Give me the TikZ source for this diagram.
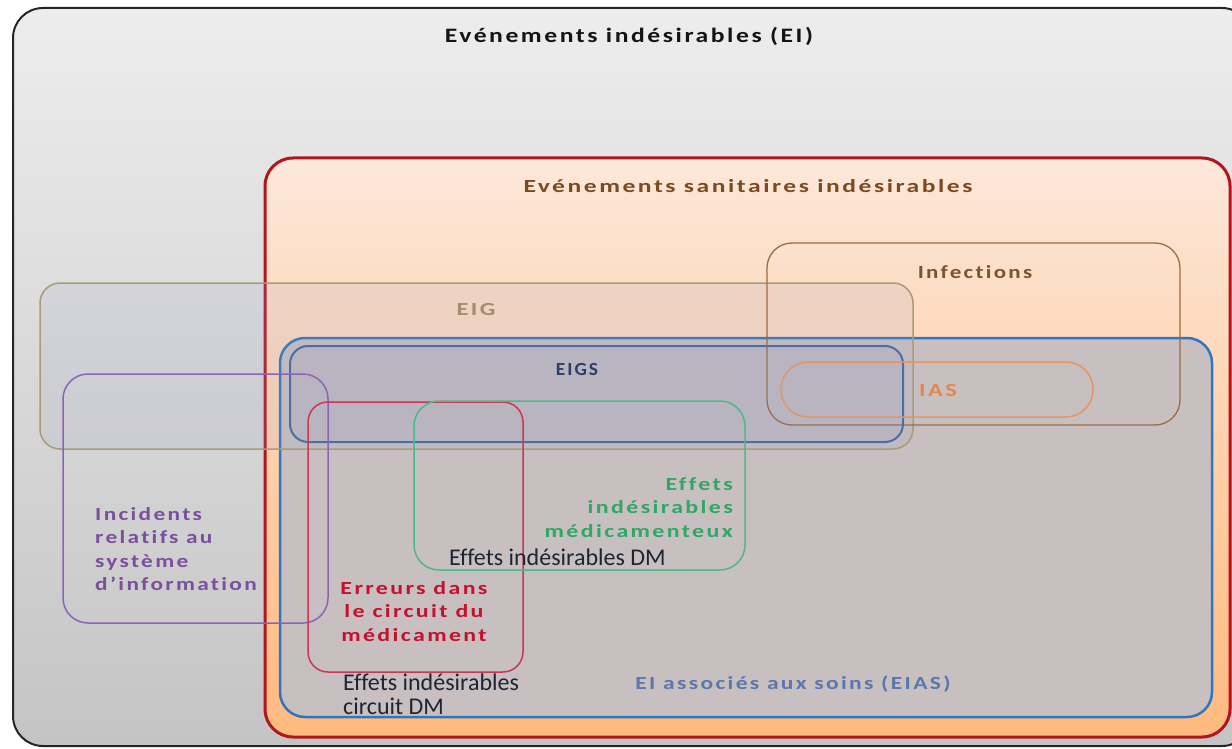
\documentclass[tikz,border=0pt]{standalone}
\usepackage{fontspec}
\setmainfont[Ligatures=NoCommon]{Carlito}
\definecolor{outtop}{HTML}{EDEDED}
\definecolor{outbot}{HTML}{C4C4C4}
\definecolor{sanred}{HTML}{B3141E}
\definecolor{peachtop}{HTML}{FDE8DA}
\definecolor{peachmid}{HTML}{FCDDC8}
\definecolor{peachbot}{HTML}{FFB97E}
\definecolor{eiasblue}{HTML}{2F76C2}
\definecolor{eiasfill}{HTML}{C8C0C0}
\definecolor{eigfill}{HTML}{9AA0C8}
\definecolor{eigline}{HTML}{A99B78}
\definecolor{eigsfill}{HTML}{7D8CC0}
\definecolor{eigsline}{HTML}{4B6EA6}
\definecolor{infline}{HTML}{9A6C40}
\definecolor{iasline}{HTML}{E59562}
\definecolor{purline}{HTML}{8D64B3}
\definecolor{errline}{HTML}{CC3650}
\definecolor{grnline}{HTML}{4BB98A}
\definecolor{titletxt}{HTML}{141414}
\definecolor{santxt}{HTML}{7B4A1E}
\definecolor{eigtxt}{HTML}{A38E70}
\definecolor{inftxt}{HTML}{7A5430}
\definecolor{iastxt}{HTML}{E3874A}
\definecolor{eigstxt}{HTML}{2D3F66}
\definecolor{purtxt}{HTML}{7B4F9E}
\definecolor{errtxt}{HTML}{C5112C}
\definecolor{grntxt}{HTML}{2FA864}
\definecolor{eiastxt}{HTML}{5878B0}
\definecolor{plaintxt}{HTML}{1D2535}
% horizontally widened text
\newcommand\wideone[2]{\scalebox{#1}[1]{#2}}
\newcommand\widemulti[3]{\scalebox{#2}[1]{\begin{tabular}{@{}#1@{}}#3\end{tabular}}}
\begin{document}
\begin{tikzpicture}[x=1pt,y=-1pt,
  lbl/.style={font=\fontsize{18.5}{23.5}\selectfont\bfseries\addfontfeatures{LetterSpace=10}, inner sep=0pt},
  plain/.style={font=\fontsize{24}{24}\selectfont, text=plaintxt, inner sep=0pt},
  thin/.style={line width=1.5pt}]
\clip (0,0) rectangle (1232,749);
\fill[white] (0,0) rectangle (1232,749);
% outer box
\draw[line width=2pt, draw=black!85, rounded corners=30, top color=outtop, bottom color=outbot] (13,8) rectangle (1252,746);
% sanitary events
\draw[line width=3pt, draw=sanred, rounded corners=28, top color=peachtop, middle color=peachmid, bottom color=peachbot] (265,158) rectangle (1230,737);
% EIAS
\draw[line width=2.5pt, draw=eiasblue, rounded corners=25, fill=eiasfill] (280,338) rectangle (1212,717);
% EIG
\fill[eigfill, fill opacity=0.15, rounded corners=20] (40,283) rectangle (913,449);
\draw[thin, draw=eigline, rounded corners=20] (40,283) rectangle (913,449);
% Infections
\draw[line width=1.3pt, draw=infline, rounded corners=25] (767,243) rectangle (1180,425);
% EIGS
\fill[eigsfill, fill opacity=0.12, rounded corners=18] (290,346) rectangle (903,442);
\draw[line width=2pt, draw=eigsline, rounded corners=18] (290,346) rectangle (903,442);
% IAS
\draw[thin, draw=iasline, rounded corners=27] (781,362) rectangle (1093,417);
% purple
\draw[thin, draw=purline, rounded corners=25] (63,374) rectangle (328,623);
% errors
\draw[thin, draw=errline, rounded corners=20] (308,402) rectangle (523,672);
% green
\draw[thin, draw=grnline, rounded corners=25] (414,401) rectangle (745,570);
% labels
\node[lbl, font=\fontsize{20.5}{24}\selectfont\bfseries\addfontfeatures{LetterSpace=10}, text=titletxt, anchor=base] (tEI) at (629,43) {\wideone{1.25}{Evénements indésirables (EI)}};
\node[lbl, text=santxt, anchor=base] (tSan) at (748,193) {\wideone{1.38}{Evénements sanitaires indésirables}};
\node[lbl, text=eigtxt, anchor=base] (tEIG) at (476,315) {\wideone{1.32}{EIG}};
\node[lbl, text=inftxt, anchor=base] (tInf) at (975,278) {\wideone{1.24}{Infections}};
\node[lbl, text=iastxt, anchor=base] (tIAS) at (938,396) {\wideone{1.32}{IAS}};
\node[lbl, text=eigstxt, anchor=base] (tEIGS) at (577,375) {\wideone{1.05}{EIGS}};
\node[lbl, text=purtxt, anchor=west] (tPur) at (95,551) {\widemulti{l}{1.26}{Incidents\\relatifs au\\système\\d’information}};
\node[lbl, text=errtxt, anchor=center] (tErr) at (414,613) {\widemulti{c}{1.29}{Erreurs dans\\le circuit du\\médicament}};
\node[lbl, text=grntxt, anchor=east] (tGrn) at (733,509) {\widemulti{r}{1.29}{Effets\\indésirables\\médicamenteux}};
\node[lbl, text=eiastxt, anchor=base] (tEIAS) at (793,689) {\wideone{1.27}{EI associés aux soins (EIAS)}};
\node[plain, anchor=base west] (tDM) at (449,565) {Effets indésirables DM};
\node[plain, align=left, anchor=west] (tCDM) at (343,694) {Effets indésirables\\circuit DM};
\end{tikzpicture}
\end{document}
